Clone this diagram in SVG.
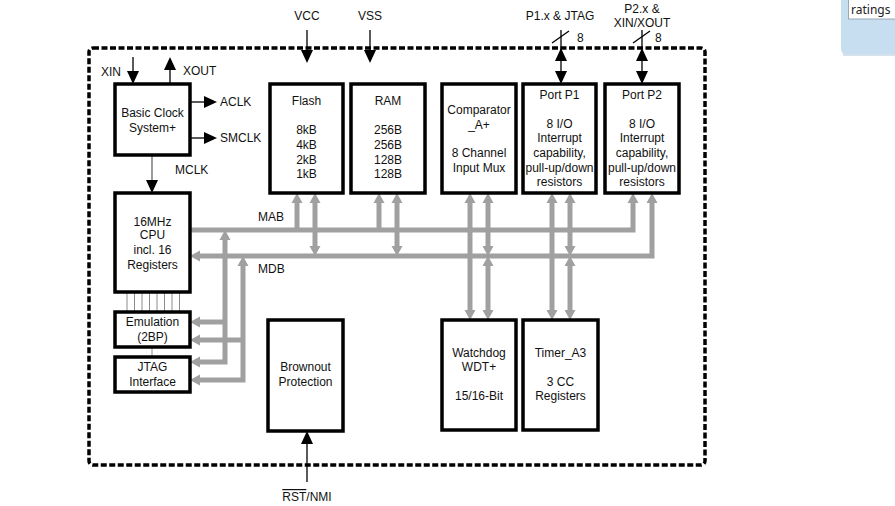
<svg xmlns="http://www.w3.org/2000/svg" width="895" height="506" viewBox="0 0 895 506">
<defs>
<style>
text{font-family:"Liberation Sans",Arial,sans-serif;font-size:12px;fill:#111}
.c{text-anchor:middle}
.box{fill:#fff;stroke:#000;stroke-width:3.5}
.bus{fill:none;stroke:#a0a0a0;stroke-width:5}
.sig{fill:none;stroke:#000;stroke-width:1.3}
.thin{fill:none;stroke:#8c8c8c;stroke-width:1}
</style>
<marker id="ga" markerUnits="userSpaceOnUse" markerWidth="10" markerHeight="11" refX="0" refY="5.5" orient="auto-start-reverse" overflow="visible"><path d="M0,0 L10,5.5 L0,11 z" fill="#a0a0a0"/></marker>
<marker id="ba" markerUnits="userSpaceOnUse" markerWidth="13" markerHeight="12" refX="0" refY="6" orient="auto-start-reverse" overflow="visible"><path d="M0,0 L13,6 L0,12 z" fill="#000"/></marker>
</defs>
<rect width="895" height="506" fill="#fff"/>

<g id="tooltip">
<path d="M843,56 H895 V2 H843 z" fill="#b9cfdf" opacity="0.6"/>
<path d="M841,0 H895 V54 H846 Q841,54 841,49 z" fill="#c6def0"/>
<rect x="848.5" y="-1" width="48" height="20" fill="#fff" stroke="#9aa8b4" stroke-width="1"/>
<text x="851" y="14" style="font-family:'Noto Sans','Open Sans',sans-serif;font-size:12px;fill:#222">ratings</text>
</g>

<rect id="chip" x="89" y="48" width="616" height="417" rx="4" fill="none" stroke="#000" stroke-width="3.5" stroke-dasharray="6 2.5"/>

<g id="connectors">
<line class="sig" x1="133" y1="57" x2="133" y2="71" marker-end="url(#ba)"/>
<line class="sig" x1="170" y1="84" x2="170" y2="70" marker-end="url(#ba)"/>
<line class="sig" x1="190" y1="102" x2="204" y2="102" marker-end="url(#ba)"/>
<line class="sig" x1="190" y1="138" x2="204" y2="138" marker-end="url(#ba)"/>
<line x1="152" y1="155" x2="152" y2="180" stroke="#666" stroke-width="1.3" marker-end="url(#ba)"/>
<line class="sig" x1="307" y1="30" x2="307" y2="50" marker-end="url(#ba)"/>
<line class="sig" x1="370" y1="30" x2="370" y2="50" marker-end="url(#ba)"/>
<line class="sig" x1="561" y1="30" x2="561" y2="71" marker-end="url(#ba)"/>
<path d="M555,61 L561,48 L567,61 z" fill="#000"/>
<line class="sig" x1="642" y1="30" x2="642" y2="71" marker-end="url(#ba)"/>
<path d="M636,61 L642,48 L648,61 z" fill="#000"/>
<line class="sig" x1="552" y1="43" x2="569" y2="31"/>
<line class="sig" x1="633" y1="43" x2="650" y2="31"/>
<line class="sig" x1="307" y1="482" x2="307" y2="444" marker-end="url(#ba)"/>

<path class="bus" d="M190,230 H633 V203" marker-end="url(#ga)"/>
<path class="bus" d="M652,203 V256 H200" marker-start="url(#ga)" marker-end="url(#ga)"/>
<path class="bus" d="M297,228 V203" marker-end="url(#ga)"/>
<path class="bus" d="M315,203 V246" marker-start="url(#ga)" marker-end="url(#ga)"/>
<path class="bus" d="M379,228 V203" marker-end="url(#ga)"/>
<path class="bus" d="M397,203 V246" marker-start="url(#ga)" marker-end="url(#ga)"/>
<path class="bus" d="M470,203 V310" marker-start="url(#ga)" marker-end="url(#ga)"/>
<path class="bus" d="M488,203 V246" marker-start="url(#ga)" marker-end="url(#ga)"/>
<path class="bus" d="M488,266 V310" marker-start="url(#ga)" marker-end="url(#ga)"/>
<path class="bus" d="M552,203 V310" marker-start="url(#ga)" marker-end="url(#ga)"/>
<path class="bus" d="M570,203 V246" marker-start="url(#ga)" marker-end="url(#ga)"/>
<path class="bus" d="M570,266 V310" marker-start="url(#ga)" marker-end="url(#ga)"/>
<path class="bus" d="M225,240 V362 H200" marker-start="url(#ga)" marker-end="url(#ga)"/>
<path class="bus" d="M225,322 H200" marker-end="url(#ga)"/>
<path class="bus" d="M243,266 V380 H200" marker-start="url(#ga)" marker-end="url(#ga)"/>
<path class="bus" d="M243,340 H200" marker-end="url(#ga)"/>

<path class="thin" d="M127,293 V311 M134.5,293 V311 M142,293 V311 M149.5,293 V311 M157,293 V311 M164.5,293 V311 M172,293 V311 M179.5,293 V311 M152,348 V356"/>
</g>

<g id="labels">
<text class="c" x="307" y="20">VCC</text>
<text class="c" x="370" y="20">VSS</text>
<text class="c" x="560" y="20">P1.x &amp; JTAG</text>
<text class="c" x="642" y="13">P2.x &amp;</text>
<text class="c" x="642" y="27">XIN/XOUT</text>
<text x="577" y="42">8</text>
<text x="655" y="42">8</text>
<text x="101" y="76">XIN</text>
<text x="183" y="75">XOUT</text>
<text x="220" y="106">ACLK</text>
<text x="220" y="142">SMCLK</text>
<text x="175" y="174">MCLK</text>
<text x="258" y="221">MAB</text>
<text x="258" y="273">MDB</text>
<text class="c" x="307" y="501"><tspan text-decoration="overline">RST</tspan>/NMI</text>
</g>

<g id="clock">
<rect class="box" x="115" y="84" width="75" height="71"/>
<text class="c" x="152.5" y="117">Basic Clock</text>
<text class="c" x="152.5" y="132">System+</text>
</g>
<g id="cpu">
<rect class="box" x="115" y="193" width="75" height="99"/>
<text class="c" x="152.5" y="226">16MHz</text>
<text class="c" x="152.5" y="239">CPU</text>
<text class="c" x="152.5" y="254">incl. 16</text>
<text class="c" x="152.5" y="269">Registers</text>
</g>
<g id="emulation">
<rect class="box" x="115" y="312" width="75" height="35"/>
<text class="c" x="152.5" y="326">Emulation</text>
<text class="c" x="152.5" y="341">(2BP)</text>
</g>
<g id="jtag">
<rect class="box" x="115" y="357" width="75" height="35"/>
<text class="c" x="152.5" y="371">JTAG</text>
<text class="c" x="152.5" y="386">Interface</text>
</g>
<g id="flash">
<rect class="box" x="270" y="84" width="73" height="109"/>
<text class="c" x="306.5" y="105">Flash</text>
<text class="c" x="306.5" y="134">8kB</text>
<text class="c" x="306.5" y="149">4kB</text>
<text class="c" x="306.5" y="164">2kB</text>
<text class="c" x="306.5" y="178">1kB</text>
</g>
<g id="ram">
<rect class="box" x="351" y="84" width="74" height="109"/>
<text class="c" x="388" y="105">RAM</text>
<text class="c" x="388" y="134">256B</text>
<text class="c" x="388" y="149">256B</text>
<text class="c" x="388" y="164">128B</text>
<text class="c" x="388" y="178">128B</text>
</g>
<g id="comparator">
<rect class="box" x="442" y="84" width="74" height="109"/>
<text class="c" x="479" y="114">Comparator</text>
<text class="c" x="479" y="129">_A+</text>
<text class="c" x="479" y="157">8 Channel</text>
<text class="c" x="479" y="172">Input Mux</text>
</g>
<g id="portp1">
<rect class="box" x="523" y="84" width="73" height="109"/>
<text class="c" x="559.5" y="99">Port P1</text>
<text class="c" x="559.5" y="128">8 I/O</text>
<text class="c" x="559.5" y="142">Interrupt</text>
<text class="c" x="559.5" y="157">capability,</text>
<text class="c" x="559.5" y="172">pull-up/down</text>
<text class="c" x="559.5" y="186">resistors</text>
</g>
<g id="portp2">
<rect class="box" x="605" y="84" width="74" height="109"/>
<text class="c" x="642" y="99">Port P2</text>
<text class="c" x="642" y="128">8 I/O</text>
<text class="c" x="642" y="142">Interrupt</text>
<text class="c" x="642" y="157">capability,</text>
<text class="c" x="642" y="172">pull-up/down</text>
<text class="c" x="642" y="186">resistors</text>
</g>
<g id="brownout">
<rect class="box" x="268" y="320" width="75" height="111"/>
<text class="c" x="305.5" y="371">Brownout</text>
<text class="c" x="305.5" y="386">Protection</text>
</g>
<g id="watchdog">
<rect class="box" x="442" y="320" width="74" height="110"/>
<text class="c" x="479" y="357">Watchdog</text>
<text class="c" x="479" y="371">WDT+</text>
<text class="c" x="479" y="400">15/16-Bit</text>
</g>
<g id="timer">
<rect class="box" x="523" y="320" width="75" height="110"/>
<text class="c" x="560.5" y="357">Timer_A3</text>
<text class="c" x="560.5" y="386">3 CC</text>
<text class="c" x="560.5" y="400">Registers</text>
</g>
</svg>
